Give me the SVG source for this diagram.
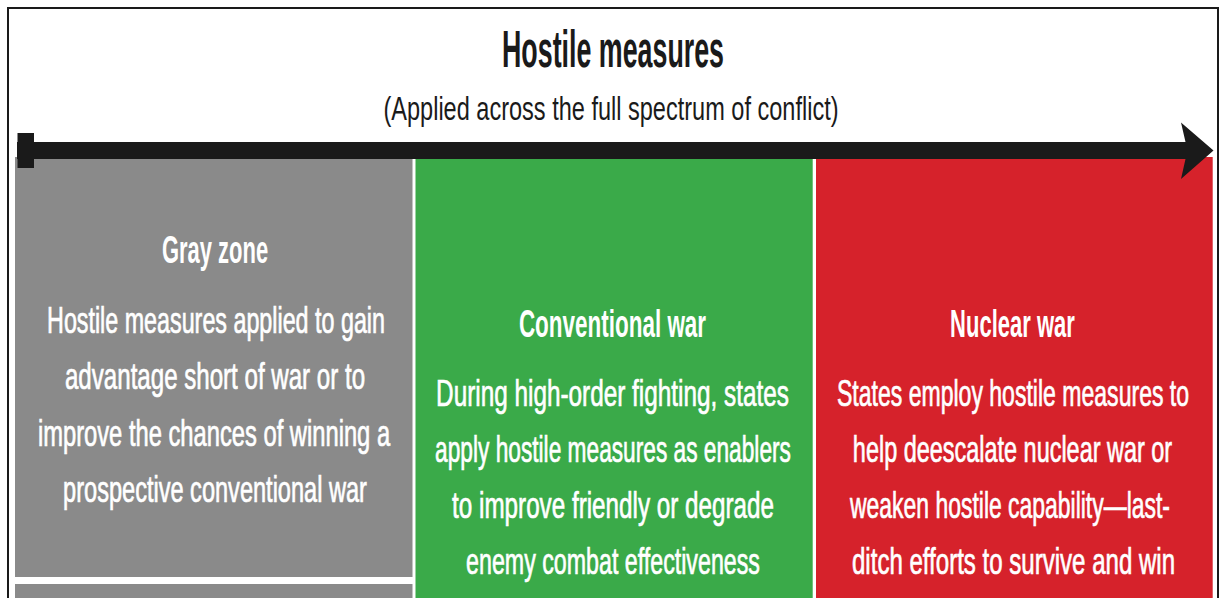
<svg xmlns="http://www.w3.org/2000/svg" width="1222" height="598" viewBox="0 0 1222 598">
<style>
.t{font-family:"Liberation Sans",Arial,sans-serif;text-anchor:middle}
.title{font-size:52px;font-weight:bold;fill:#1a1a1a}
.sub{font-size:33px;fill:#1a1a1a}
.head{font-size:38px;font-weight:bold;fill:#ffffff}
.body{font-size:36px;fill:#ffffff;stroke:#ffffff;stroke-width:0.7px}
</style>
<rect x="0" y="0" width="1222" height="598" fill="#ffffff"/>
<rect x="8" y="8" width="1210" height="620" fill="none" stroke="#1a1a1a" stroke-width="2"/>
<g id="header">
<text class="t title" transform="translate(613,67) scale(0.5,1)" textLength="444" lengthAdjust="spacingAndGlyphs">Hostile measures</text>
<text class="t sub" transform="translate(611,120) scale(0.62,1)" textLength="734" lengthAdjust="spacingAndGlyphs">(Applied across the full spectrum of conflict)</text>
</g>
<g id="gray-zone">
<rect x="15" y="157" width="397.5" height="420" fill="#8a8a8a"/>
<rect x="15" y="584" width="397.5" height="20" fill="#8a8a8a"/>
<text class="t head" transform="translate(215,263) scale(0.6,1)" textLength="177" lengthAdjust="spacingAndGlyphs">Gray zone</text>
<text class="t body" transform="translate(216,333) scale(0.62,1)" textLength="545" lengthAdjust="spacingAndGlyphs">Hostile measures applied to gain</text>
<text class="t body" transform="translate(215,389) scale(0.62,1)" textLength="484" lengthAdjust="spacingAndGlyphs">advantage short of war or to</text>
<text class="t body" transform="translate(214,446) scale(0.62,1)" textLength="568" lengthAdjust="spacingAndGlyphs">improve the chances of winning a</text>
<text class="t body" transform="translate(215,502) scale(0.62,1)" textLength="490" lengthAdjust="spacingAndGlyphs">prospective conventional war</text>
</g>
<g id="conventional-war">
<rect x="415.5" y="157" width="397.2" height="450" fill="#3aaa49"/>
<text class="t head" transform="translate(612.5,337) scale(0.6,1)" textLength="312" lengthAdjust="spacingAndGlyphs">Conventional war</text>
<text class="t body" transform="translate(612.5,406) scale(0.62,1)" textLength="569" lengthAdjust="spacingAndGlyphs">During high-order fighting, states</text>
<text class="t body" transform="translate(613,462) scale(0.62,1)" textLength="574" lengthAdjust="spacingAndGlyphs">apply hostile measures as enablers</text>
<text class="t body" transform="translate(613,518) scale(0.62,1)" textLength="519" lengthAdjust="spacingAndGlyphs">to improve friendly or degrade</text>
<text class="t body" transform="translate(613,574) scale(0.62,1)" textLength="474" lengthAdjust="spacingAndGlyphs">enemy combat effectiveness</text>
</g>
<g id="nuclear-war">
<rect x="816" y="157" width="396.7" height="450" fill="#d6222b"/>
<text class="t head" transform="translate(1012.5,337) scale(0.6,1)" textLength="208" lengthAdjust="spacingAndGlyphs">Nuclear war</text>
<text class="t body" transform="translate(1013,406) scale(0.62,1)" textLength="568" lengthAdjust="spacingAndGlyphs">States employ hostile measures to</text>
<text class="t body" transform="translate(1012.5,462) scale(0.62,1)" textLength="515" lengthAdjust="spacingAndGlyphs">help deescalate nuclear war or</text>
<text class="t body" transform="translate(1010,518) scale(0.62,1)" textLength="516" lengthAdjust="spacingAndGlyphs">weaken hostile capability—last-</text>
<text class="t body" transform="translate(1013.5,574) scale(0.62,1)" textLength="521" lengthAdjust="spacingAndGlyphs">ditch efforts to survive and win</text>
</g>
<g id="connectors">
<rect x="17.5" y="133" width="16.5" height="35" fill="#1a1a1a"/>
<path d="M17,142 H1185.5 L1181,122.5 L1213.5,150.5 L1181,179 L1185.5,159 H17 Z" fill="#1a1a1a"/>
</g>
</svg>
